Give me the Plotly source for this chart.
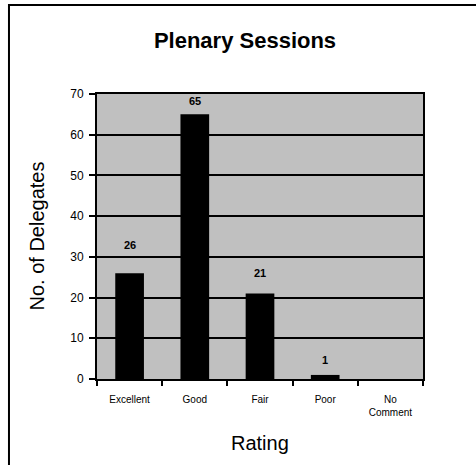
import plotly.graph_objects as go

# Delegate ratings for the plenary sessions
ratings = ["Excellent", "Good", "Fair", "Poor", "No<br>Comment"]
delegates = [26, 65, 21, 1, 0]
y_ticks = [0, 10, 20, 30, 40, 50, 60, 70]

FONT = "Arial, 'Liberation Sans', sans-serif"

# pixel lift of each value label above its bar, keeping labels clear of gridlines
label_lift = [20, 5, 13, 7, 7]

fig = go.Figure()
fig.add_trace(go.Bar(
    x=ratings,
    y=delegates,
    width=0.44,
    marker=dict(color="black", line=dict(width=0)),
    showlegend=False,
    hoverinfo="x+y",
))

# value labels above each non-empty bar
for cat, val, lift in zip(ratings, delegates, label_lift):
    if val > 0:
        fig.add_annotation(
            x=cat, y=val, xref="x", yref="y",
            text=f"<b>{val}</b>", showarrow=False,
            yanchor="bottom", yshift=lift,
            font=dict(family=FONT, size=11, color="black"),
        )

# axis titles
fig.add_annotation(
    x=-0.187, y=0.5, xref="paper", yref="paper",
    text="No. of Delegates", textangle=-90, showarrow=False,
    xanchor="center", yanchor="middle",
    font=dict(family=FONT, size=20, color="black"),
)
fig.add_annotation(
    x=0.5, y=-0.225, xref="paper", yref="paper",
    text="Rating", showarrow=False,
    xanchor="center", yanchor="middle",
    font=dict(family=FONT, size=20, color="black"),
)

# outer frame (left and top edges)
fig.add_shape(
    type="path", xref="paper", yref="paper",
    path="M -0.27,-1 L -0.27,1.312 L 1.5,1.312",
    line=dict(color="black", width=2),
)

fig.update_layout(
    width=476, height=465,
    margin=dict(l=97, r=53, t=94, b=86),
    paper_bgcolor="white",
    plot_bgcolor="#C0C0C0",
    bargap=0.56,
    title=dict(
        text="<b>Plenary Sessions</b>",
        x=245 / 476, xanchor="center",
        y=1 - 40 / 465, yanchor="middle",
        font=dict(family=FONT, size=22, color="black"),
    ),
    xaxis=dict(
        type="category",
        range=[-0.5, 4.5],
        tickson="boundaries",
        ticks="outside", ticklen=5, tickwidth=2, tickcolor="black",
        ticklabelstandoff=10,
        showline=True, linecolor="black", linewidth=2, mirror=True,
        showgrid=False,
        tickfont=dict(family=FONT, size=10, color="black"),
        fixedrange=True,
    ),
    yaxis=dict(
        range=[0, 70],
        tickvals=y_ticks,
        ticks="outside", ticklen=6, tickwidth=2, tickcolor="black",
        ticklabelstandoff=3,
        showline=True, linecolor="black", linewidth=2, mirror=True,
        showgrid=True, gridcolor="black", gridwidth=2,
        zeroline=False,
        tickfont=dict(family=FONT, size=12, color="black"),
        fixedrange=True,
    ),
)

fig.write_html("out.html")
